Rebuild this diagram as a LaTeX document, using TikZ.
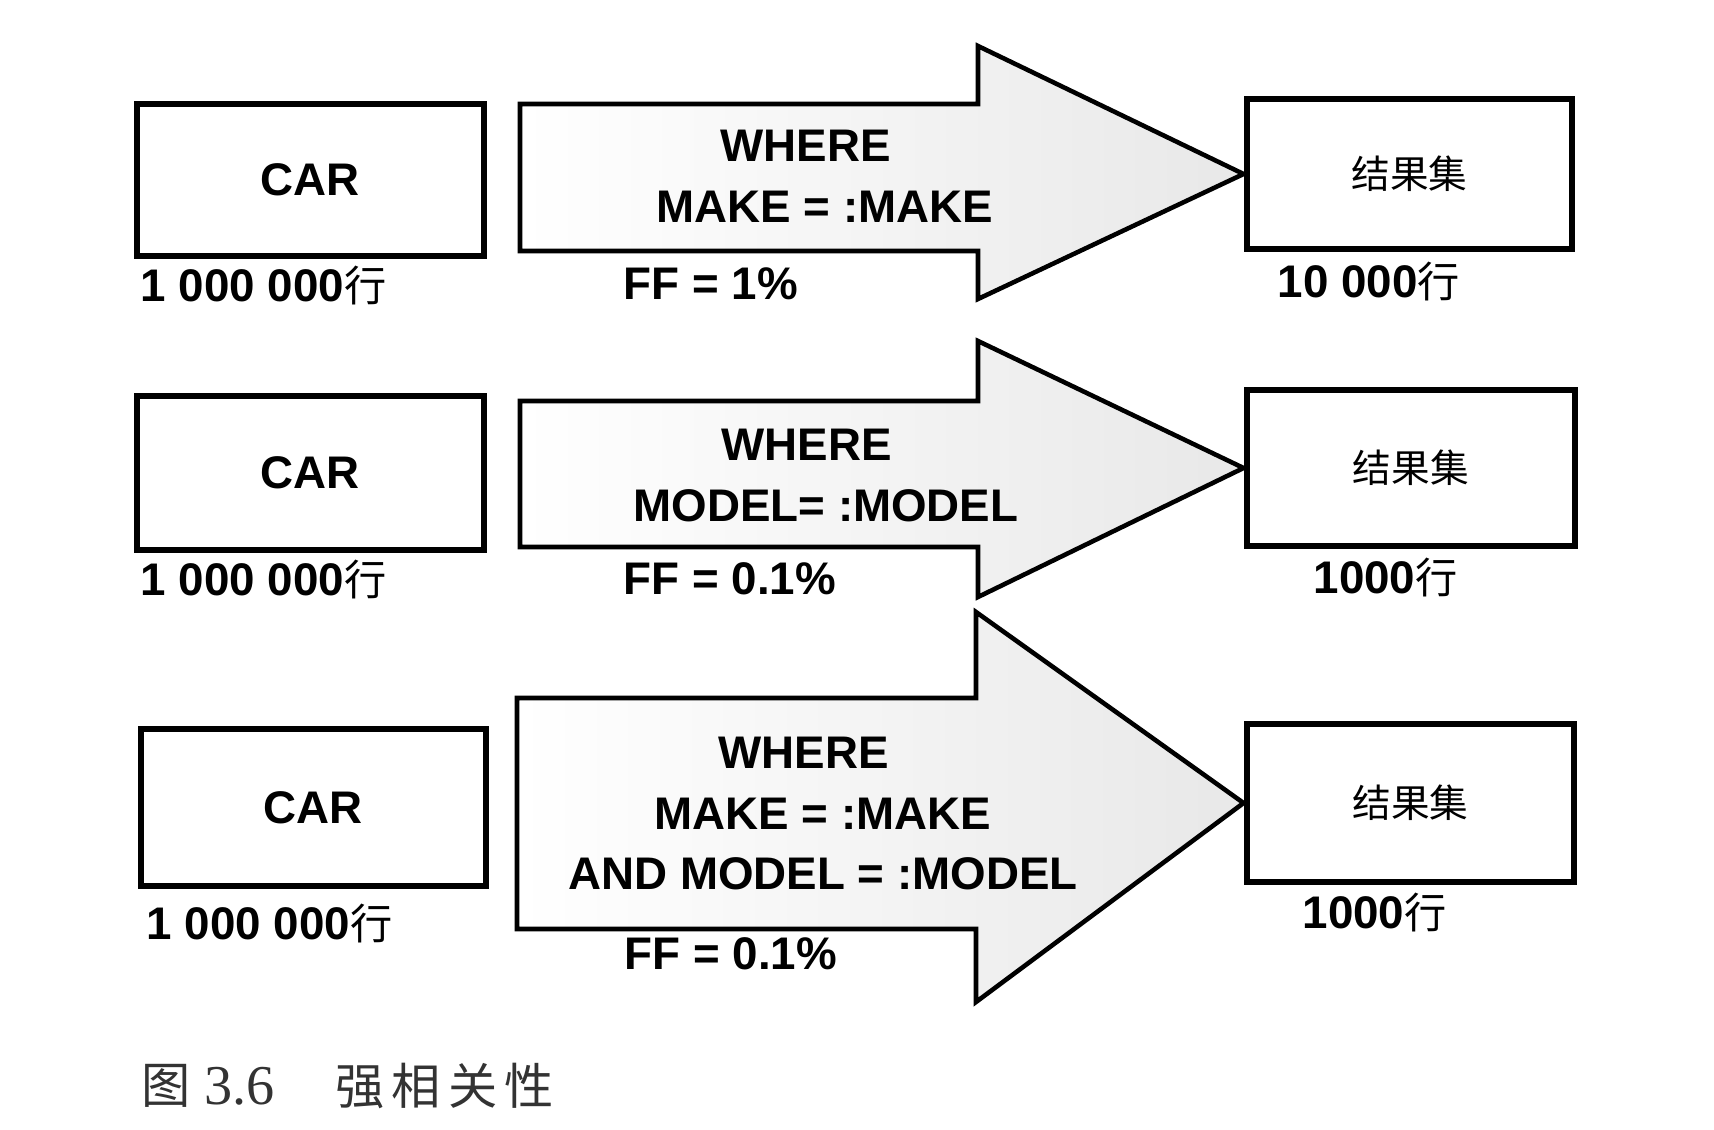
\documentclass[tikz,border=0pt]{standalone}
\usepackage{fontspec}
\setmainfont{Liberation Sans}
\newfontfamily\cjk{Noto Sans CJK SC}
\newfontfamily\capserif{Liberation Serif}
\begin{document}
\begin{tikzpicture}[x=0.01cm,y=-0.01cm,line join=miter,
	tbox/.style={draw=black,line width=1.9pt,fill=white,inner sep=0pt,font=\fontsize{13}{16}\selectfont\bfseries},
	bigarrow/.style={draw=black,line width=1.3pt,shading=axis,left color=white,right color=black!9},
	cond/.style={align=center,font=\fontsize{13}{17.2}\selectfont\bfseries},
	lab/.style={anchor=west,inner sep=0pt,font=\fontsize{13}{16}\selectfont\bfseries}]
				\useasboundingbox (0,0) rectangle (1714,1130);
				%% row 1
				\node[tbox,minimum width=3.47cm,minimum height=1.52cm] (car1) at (310.5,180) {CAR};
				\node[tbox,minimum width=3.25cm,minimum height=1.50cm] (res1) at (1409.5,174) {\cjk\mdseries\fontsize{11}{13}\selectfont 结果集};
				\coordinate (t1) at (res1.west);
				\draw[bigarrow] (520,104)--(978,104)--(978,46)--(t1)--(978,299)--(978,251)--(520,251)--cycle;
				\node[cond] (w1) at (825,176.5) {WHERE\hspace*{11pt}\\MAKE = :MAKE};
				\node[lab] (n1) at (140,286) {1 000 000{\cjk\mdseries\fontsize{12}{14}\selectfont 行}};
				\node[lab] (f1) at (623,284) {FF = 1\%};
				\node[lab] (m1) at (1277,282) {10 000{\cjk\mdseries\fontsize{12}{14}\selectfont 行}};
				%% row 2
				\node[tbox,minimum width=3.47cm,minimum height=1.54cm] (car2) at (310.5,473) {CAR};
				\node[tbox,minimum width=3.28cm,minimum height=1.56cm] (res2) at (1411,468) {\cjk\mdseries\fontsize{11}{13}\selectfont 结果集};
				\coordinate (t2) at (res2.west);
				\draw[bigarrow] (520,401)--(978,401)--(978,341)--(t2)--(978,597)--(978,547)--(520,547)--cycle;
				\node[cond] (w2) at (826,475.5) {WHERE\hspace*{11pt}\\MODEL= :MODEL};
				\node[lab] (n2) at (140,580) {1 000 000{\cjk\mdseries\fontsize{12}{14}\selectfont 行}};
				\node[lab] (f2) at (623,579) {FF = 0.1\%};
				\node[lab] (m2) at (1313,577) {1000{\cjk\mdseries\fontsize{12}{14}\selectfont 行}};
				%% row 3
				\node[tbox,minimum width=3.45cm,minimum height=1.57cm] (car3) at (313.5,807.5) {CAR};
				\node[tbox,minimum width=3.27cm,minimum height=1.58cm] (res3) at (1410.5,803) {\cjk\mdseries\fontsize{11}{13}\selectfont 结果集};
				\coordinate (t3) at (res3.west);
				\draw[bigarrow] (517,698)--(976,698)--(976,612)--(t3)--(976,1002)--(976,929)--(517,929)--cycle;
				\node[cond] (w3) at (823,813.5) {WHERE\hspace*{11pt}\\MAKE = :MAKE\hspace*{4.4pt}\\AND MODEL = :MODEL};
				\node[lab] (n3) at (146,923) {1 000 000{\cjk\mdseries\fontsize{12}{14}\selectfont 行}};
				\node[lab] (f3) at (624,954) {FF = 0.1\%};
				\node[lab] (m3) at (1302,912) {1000{\cjk\mdseries\fontsize{12}{14}\selectfont 行}};
				%% caption
				\node[anchor=west,inner sep=0pt,black!80,font=\cjk\fontsize{14}{16}\selectfont] (cap1) at (141,1086) {图};
				\node[anchor=west,inner sep=0pt,black!80,font=\capserif\fontsize{16}{18}\selectfont] (cap2) at (204,1086) {3.6};
				\node[anchor=west,inner sep=0pt,black!80,font=\cjk\fontsize{14}{16}\selectfont] (cap3) at (335,1086) {强\hspace{2pt}相\hspace{2pt}关\hspace{2pt}性};
			\end{tikzpicture}
\end{document}
